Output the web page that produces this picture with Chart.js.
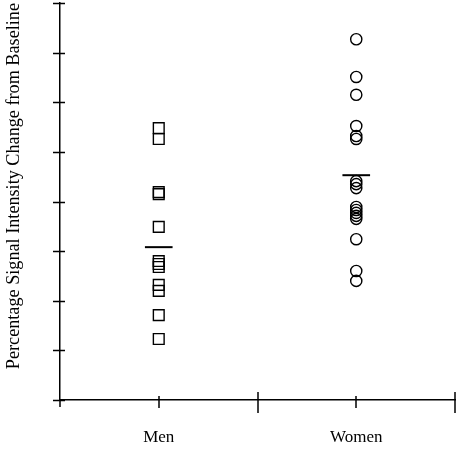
<!DOCTYPE html>
<html>
<head>
<meta charset="utf-8">
<script src="https://cdn.jsdelivr.net/npm/chart.js@4.4.1/dist/chart.umd.min.js"></script>
<style>
  body { margin: 0; background: #fff; }
</style>
</head>
<body>
<canvas id="chart" width="456" height="450"></canvas>
<script>
const groups = ['Men', 'Women'];
const menValues = [5.48, 5.26, 4.19, 4.15, 3.49, 2.80, 2.74, 2.68, 2.32, 2.20, 1.71, 1.23];
const womenValues = [7.27, 6.51, 6.15, 5.52, 5.32, 5.26, 4.41, 4.35, 4.27, 3.89, 3.83, 3.77, 3.71, 3.65, 3.24, 2.60, 2.40];
const groupMeans = [3.08, 4.53];
const yTicks = [0, 1, 2, 3, 4, 5, 6, 7, 8];

// each group sits on odd positions of the x axis (1, 3)
const groupX = groups.map((g, i) => 2 * i + 1);
const meanHalfWidth = 0.14;

const toPoints = (vals, x) => vals.map(v => ({x: x, y: v}));

// ticks that cross the axes, like the original figure
const crossTicksPlugin = {
  id: 'crossTicks',
  afterDraw: function (chart) {
    const ctx = chart.ctx;
    const xs = chart.scales.x;
    const ys = chart.scales.y;
    ctx.save();
    ctx.strokeStyle = '#000';
    ctx.lineWidth = 1.5;
    ctx.beginPath();
    ys.ticks.forEach(function (t) {
      const py = Math.round(ys.getPixelForValue(t.value)) + 0.5;
      ctx.moveTo(ys.right - 7, py);
      ctx.lineTo(ys.right + 5, py);
    });
    xs.ticks.forEach(function (t) {
      const px = Math.round(xs.getPixelForValue(t.value));
      let up = 4, down = 8;
      if (t.value === 0) { up = 0; down = 7; }
      else if (t.value % 2 === 0) { up = 8; down = 13; }
      ctx.moveTo(px, xs.top - up);
      ctx.lineTo(px, xs.top + down);
    });
    ctx.stroke();
    ctx.restore();
  }
};

const ctx = document.getElementById('chart');

new Chart(ctx, {
  type: 'scatter',
  data: {
    datasets: [
      {
        label: groups[0],
        data: toPoints(menValues, groupX[0]),
        pointStyle: 'rect',
        pointRadius: 7.6,
        borderColor: '#000',
        backgroundColor: 'rgba(0,0,0,0)',
        borderWidth: 1.4
      },
      {
        label: groups[1],
        data: toPoints(womenValues, groupX[1]),
        pointStyle: 'circle',
        pointRadius: 5.6,
        borderColor: '#000',
        backgroundColor: 'rgba(0,0,0,0)',
        borderWidth: 1.4
      },
      ...groups.map((g, i) => ({
        label: g + ' mean',
        data: [{x: groupX[i] - meanHalfWidth, y: groupMeans[i]}, {x: groupX[i] + meanHalfWidth, y: groupMeans[i]}],
        showLine: true,
        pointRadius: 0,
        borderColor: '#000',
        borderWidth: 2
      }))
    ]
  },
  options: {
    responsive: false,
    animation: false,
    layout: { autoPadding: false, padding: { top: 3, right: 1, left: 0, bottom: 0 } },
    plugins: {
      legend: { display: false },
      tooltip: { enabled: false }
    },
    scales: {
      x: {
        type: 'linear',
        min: 0,
        max: 4,
        afterFit: function (scale) {
          scale.height = 50;
          scale.paddingLeft = 0;
          scale.paddingRight = 0;
        },
        afterBuildTicks: function (scale) {
          scale.ticks = [0, 1, 2, 3, 4].map(v => ({value: v}));
        },
        grid: { display: false, drawTicks: false },
        border: { display: true, color: '#000', width: 1.5 },
        ticks: {
          padding: 27,
          color: '#000',
          font: { family: 'Liberation Serif', size: 17 },
          maxRotation: 0,
          autoSkip: false,
          callback: function (v) {
            const i = groupX.indexOf(v);
            return i >= 0 ? groups[i] : '';
          }
        }
      },
      y: {
        min: 0,
        max: 8,
        afterFit: function (scale) {
          scale.width = 60;
          scale.paddingTop = 0;
          scale.paddingBottom = 0;
        },
        afterBuildTicks: function (scale) {
          scale.ticks = yTicks.map(v => ({value: v}));
        },
        grid: { display: false, drawTicks: false },
        border: { display: true, color: '#000', width: 1.5 },
        ticks: { display: false },
        title: {
          display: true,
          text: 'Percentage Signal Intensity Change from Baseline',
          align: 'end',
          color: '#000',
          font: { family: 'Liberation Serif', size: 18.2 },
          padding: { top: 3, bottom: 0 }
        }
      }
    }
  },
  plugins: [crossTicksPlugin]
});
</script>
</body>
</html>
